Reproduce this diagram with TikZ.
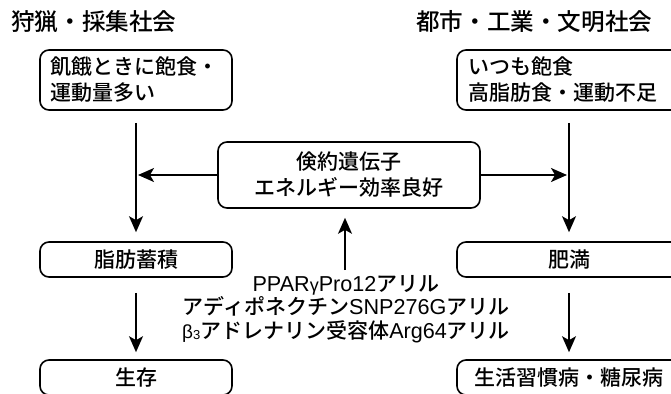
\documentclass[tikz,border=0pt]{standalone}
\usepackage{fontspec}
\setmainfont{Noto Sans CJK JP Medium}
\newfontfamily\lat{Liberation Sans}[FakeStretch=1.0]
\usetikzlibrary{arrows.meta}
\begin{document}
\begin{tikzpicture}[x=1pt,y=-1pt,
  box/.style={draw,line width=1.6pt,rounded corners=9pt,inner ysep=0pt,inner xsep=10pt,font=\fontsize{21}{26}\selectfont},
  arr/.style={line width=1.6pt,-{Stealth[length=16pt,width=14pt,inset=4pt]}},
  ttl/.style={font=\fontsize{23.6}{26}\selectfont,inner sep=0pt,anchor=west},
  note/.style={font=\fontsize{21}{23.5}\selectfont,align=center,inner sep=0pt}]
\fill[white] (0,0) rectangle (671,393);
\useasboundingbox (0,0) rectangle (671,393);
\node[ttl] (t1) at (11,22) {狩猟・採集社会};
\node[ttl] (t2) at (416,22) {都市・工業・文明社会};
\node[box,minimum width=192pt,minimum height=60pt,text width=172pt,align=left] (b1) at (136,80) {飢餓ときに飽食・\\運動量多い};
\node[box,minimum width=224pt,minimum height=60pt,text width=202pt,align=left,inner xsep=11pt] (b2) at (569,80) {いつも飽食\\高脂肪食・運動不足};
\node[box,minimum width=262pt,minimum height=66pt,align=center] (g) at (349,175) {倹約遺伝子\\エネルギー効率良好};
\node[box,minimum width=192pt,minimum height=35pt] (f1) at (136,259.5) {脂肪蓄積};
\node[box,minimum width=224pt,minimum height=35pt] (f2) at (569,259.5) {肥満};
\node[box,minimum width=192pt,minimum height=35pt] (s1) at (136,377.5) {生存};
\node[box,minimum width=224pt,minimum height=35pt] (s2) at (569,377.5) {生活習慣病・糖尿病};
\node[note] (n) at (346,309) {{\lat\fontsize{21.6}{23.5}\selectfont PPAR{\fontsize{18}{20}\selectfont γ}Pro12}アリル\\アディポネクチン{\lat\fontsize{21.6}{23.5}\selectfont SNP276G}アリル\\{\lat\fontsize{19}{20}\selectfont β\raisebox{-1pt}{\fontsize{13}{14}\selectfont 3}}アドレナリン受容体{\lat\fontsize{21.6}{23.5}\selectfont Arg64}アリル};
\draw[arr,shorten <=12pt,shorten >=9pt] (b1.south -| f1.north) -- (f1.north);
\draw[arr,shorten <=12pt,shorten >=9pt] (b2.south -| f2.north) -- (f2.north);
\draw[arr,shorten <=15pt,shorten >=7pt] (f1.south) -- (s1.north);
\draw[arr,shorten <=15pt,shorten >=7pt] (f2.south) -- (s2.north);
\draw[arr,shorten >=2pt] (g.west) -- (g.west -| f1.north);
\draw[arr,shorten >=2pt] (g.east) -- (g.east -| f2.north);
\coordinate (up) at (345,270);
\draw[arr,shorten >=9pt] (up) -- (up |- g.south);
\end{tikzpicture}
\end{document}
